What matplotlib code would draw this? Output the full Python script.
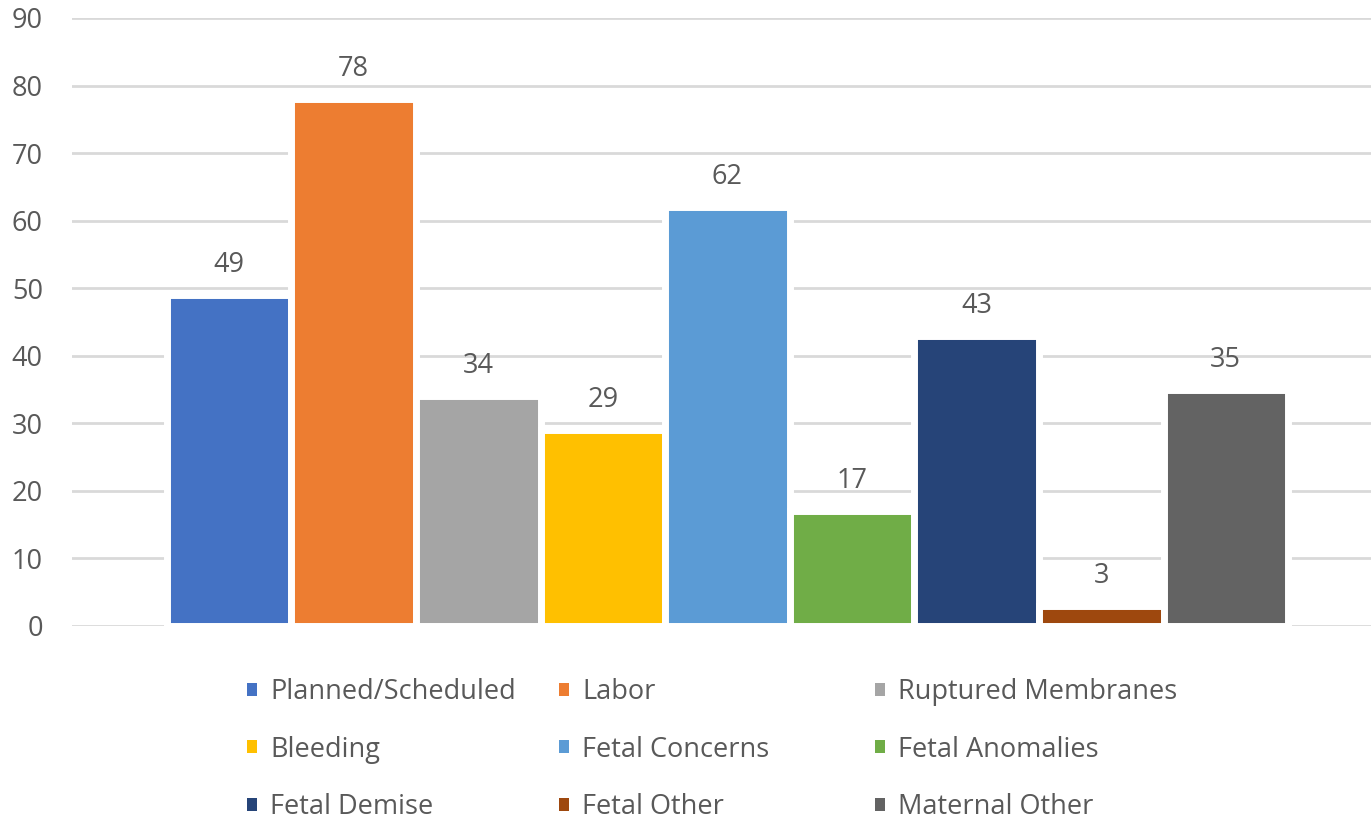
import matplotlib
matplotlib.use("Agg")
import matplotlib.pyplot as plt
from matplotlib.patches import Patch

plt.rcParams['font.family'] = ['Open Sans', 'DejaVu Sans']

series = ["Planned/Scheduled", "Labor", "Ruptured Membranes", "Bleeding",
          "Fetal Concerns", "Fetal Anomalies", "Fetal Demise", "Fetal Other",
          "Maternal Other"]
values = [49, 78, 34, 29, 62, 17, 43, 3, 35]
colors = ["#4472C4", "#ED7D31", "#A5A5A5", "#FFC000", "#5B9BD5",
          "#70AD47", "#264478", "#9E480E", "#636363"]
yticks = [0, 10, 20, 30, 40, 50, 60, 70, 80, 90]

TXT = "#595959"
FS = 19.5

fig = plt.figure(figsize=(13.71, 8.23), dpi=100)
W, H = 1371, 823
ax = fig.add_axes([72 / W, 1 - 626 / H, 1 - 72 / W, (626 - 18) / H])

bars = []
for i, (name, v, c) in enumerate(zip(series, values, colors)):
    b = ax.bar(i, v, width=1.0, color=c, edgecolor="white", linewidth=5.0,
               label=name, zorder=3)
    bars.append(b)
    ax.annotate(f"{v}", (i, v), xytext=(0, 16.5), textcoords="offset points",
                ha="center", va="baseline", fontsize=FS, color=TXT, zorder=4)

ax.set_ylim(0, 90)
ax.set_xlim((72 - 229) / 124.6, (1371 - 229) / 124.6)
ax.set_yticks(yticks)
ax.yaxis.grid(True, color="#D9D9D9", linewidth=2.0, zorder=0)
ax.set_axisbelow(True)
ax.set_xticks([])
for s in ax.spines.values():
    s.set_visible(False)
ax.tick_params(axis="y", length=0, pad=21, labelsize=FS, labelcolor=TXT)

handles = [Patch(facecolor=c, edgecolor="none") for c in colors]
col_x = [247, 559, 875]
for j in range(3):
    idx = [j, j + 3, j + 6]
    leg = fig.legend([handles[k] for k in idx], [series[k] for k in idx],
                     loc="upper left", bbox_to_anchor=(col_x[j] / W, 1 - 678 / H),
                     frameon=False, fontsize=FS, labelcolor=TXT,
                     handlelength=0.38, handleheight=0.38, handletextpad=0.48,
                     labelspacing=1.09, borderpad=0, borderaxespad=0)

fig.savefig("out.png", dpi=100)
